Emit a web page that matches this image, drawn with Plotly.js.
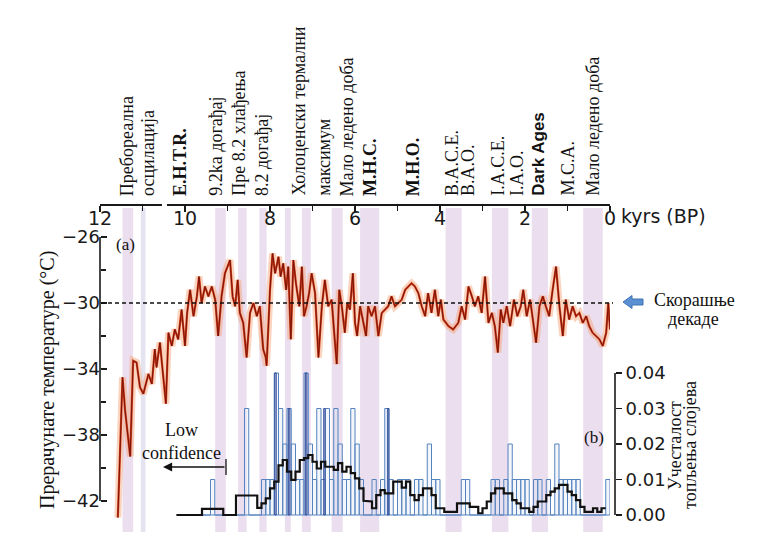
<!DOCTYPE html>
<html><head><meta charset="utf-8">
<script src="https://cdn.plot.ly/plotly-3.0.1.min.js"></script>
<style>html,body{margin:0;padding:0;background:#fff}#chart{width:768px;height:551px}</style>
</head><body><div id="chart"></div>
<script>
// ---- data ----
const tempAge = [11.58,11.47,11.41,11.29,11.22,11.14,11.06,10.98,10.86,10.78,10.71,10.67,10.59,10.51,10.45,10.39,10.31,10.24,10.16,10.08,10.00,9.95,9.88,9.80,9.72,9.67,9.61,9.53,9.45,9.37,9.29,9.22,9.14,9.06,8.98,8.94,8.88,8.82,8.76,8.71,8.63,8.55,8.47,8.39,8.31,8.24,8.16,8.10,8.08,8.00,7.94,7.88,7.80,7.75,7.69,7.62,7.57,7.51,7.45,7.39,7.31,7.25,7.20,7.14,7.08,7.02,6.94,6.86,6.78,6.71,6.63,6.55,6.49,6.43,6.37,6.31,6.24,6.18,6.12,6.05,6.00,5.95,5.88,5.80,5.74,5.69,5.61,5.53,5.45,5.37,5.29,5.22,5.14,5.06,4.98,4.90,4.82,4.75,4.67,4.59,4.51,4.43,4.35,4.28,4.20,4.12,4.04,3.98,3.92,3.80,3.69,3.57,3.49,3.41,3.33,3.25,3.18,3.10,3.02,2.94,2.86,2.78,2.71,2.64,2.57,2.51,2.43,2.35,2.26,2.18,2.10,2.04,1.96,1.88,1.80,1.74,1.66,1.58,1.51,1.43,1.35,1.27,1.19,1.11,1.04,0.96,0.88,0.80,0.72,0.64,0.56,0.49,0.41,0.33,0.25,0.17,0.09,0.04,0.00];
const tempVal = [-43.0,-34.5,-36.5,-39.3,-33.5,-33.6,-35.1,-35.5,-34.3,-34.9,-32.8,-33.9,-32.4,-34.3,-36.1,-31.8,-32.6,-31.6,-32.2,-30.4,-32.6,-30.6,-29.2,-30.8,-29.6,-28.4,-30.0,-29.0,-29.6,-29.0,-29.8,-32.0,-29.6,-28.2,-27.6,-27.4,-29.6,-30.2,-28.6,-30.6,-31.2,-33.3,-30.6,-30.0,-30.8,-30.2,-32.8,-33.3,-33.8,-29.2,-27.0,-28.2,-27.2,-28.4,-27.6,-29.2,-27.8,-32.2,-27.4,-28.8,-30.2,-27.8,-30.8,-30.2,-29.4,-28.2,-29.4,-33.3,-30.2,-28.6,-30.2,-29.8,-31.8,-33.7,-29.2,-30.2,-31.8,-30.0,-30.4,-28.2,-31.2,-32.0,-30.2,-31.2,-32.0,-30.2,-30.8,-30.2,-32.0,-30.6,-30.4,-30.2,-29.6,-30.2,-30.0,-29.8,-29.2,-29.0,-28.8,-29.0,-29.4,-30.2,-30.8,-29.4,-30.6,-29.2,-30.8,-29.8,-31.0,-31.4,-31.6,-31.2,-30.2,-31.0,-29.0,-29.6,-30.2,-29.6,-30.6,-28.4,-31.2,-30.6,-31.4,-33.0,-30.4,-31.2,-30.2,-31.4,-29.8,-30.8,-30.2,-29.2,-30.8,-29.8,-31.2,-32.4,-30.2,-29.6,-30.2,-30.8,-29.2,-27.8,-30.2,-32.0,-29.8,-31.0,-30.2,-30.8,-30.6,-31.2,-30.8,-31.4,-31.8,-32.0,-32.2,-32.6,-31.8,-30.0,-31.6];

const recentDecades = -30;

const meltAge = [10.15,10.05,9.95,9.85,9.75,9.65,9.55,9.45,9.35,9.25,9.15,9.05,8.95,8.85,8.75,8.65,8.55,8.45,8.35,8.25,8.15,8.05,7.95,7.85,7.75,7.65,7.55,7.45,7.35,7.25,7.15,7.05,6.95,6.85,6.75,6.65,6.55,6.45,6.35,6.25,6.15,6.05,5.95,5.85,5.75,5.65,5.55,5.45,5.35,5.25,5.15,5.05,4.95,4.85,4.75,4.65,4.55,4.45,4.35,4.25,4.15,4.05,3.95,3.85,3.75,3.65,3.55,3.45,3.35,3.25,3.15,3.05,2.95,2.85,2.75,2.65,2.55,2.45,2.35,2.25,2.15,2.05,1.95,1.85,1.75,1.65,1.55,1.45,1.35,1.25,1.15,1.05,0.95,0.85,0.75,0.65,0.55,0.45,0.35,0.25,0.15,0.05];
const meltFreq = [0,0,0,0,0,0,0,0,0.01,0,0,0,0,0,0,0,0.03,0,0,0,
  0.01,0.01,0.01,0.04,0.03,0.02,0.03,0.02,0.01,0.01,0.04,0.02,0.01,0.03,0.01,0.03,0.01,0.03,0.02,0.01,0.01,0.03,0.02,0.01,0,0,0.01,0,0.01,0.03,0.01,0,0.01,0.01,0.01,0,0.01,0.01,0,0.02,0.01,0.01,0,0,0,0,0,0.01,0.01,0,0,0,0,0,0.01,0.01,0,0.01,0.02,0.01,0.01,0.01,0.01,0,0.01,0.01,0,0.01,0,0.02,0.01,0.01,0.01,0.01,0.01,0,0,0,0,0,0,0.01];
const meltMean = [0,0,0,0,0,0,0.0017,0.0017,0.0017,0.0017,0.0017,0,0,0,0.0055,0.0055,0.0055,0.0055,0.0055,0.002,
  0.0033,0.0047,0.0075,0.0094,0.014,0.0155,0.0122,0.0099,0.0122,0.0155,0.016,0.0169,0.015,0.0131,0.015,0.0136,0.0136,0.0127,0.0146,0.0122,0.0136,0.0118,0.0103,0.0075,0.004,0.0038,0.0019,0.0056,0.007,0.0061,0.0061,0.0094,0.0094,0.0077,0.0094,0.0056,0.0042,0.0056,0.0075,0.0075,0.0056,0.0019,0.0019,0.0009,0.0009,0.0009,0.0033,0.0033,0.0033,0.0023,0.0023,0.0005,0.0019,0.0038,0.0061,0.0075,0.0075,0.0061,0.0061,0.0042,0.0033,0.0019,0.0019,0.0009,0.0023,0.0038,0.0038,0.0056,0.0066,0.0075,0.0085,0.0085,0.0066,0.0056,0.0042,0.0023,0.0009,0.0009,0.0019,0.0009,0.0019,null];

const meltDarkAge = [7.87,7.55,7.15,6.72,5.22];
const meltDark    = [0.04,0.03,0.04,0.03,0.03];

const bandStart = [11.47,11.04,9.29,8.75,8.25,7.65,7.25,6.55,5.88,3.87,2.78,1.84,0.63];
const bandEnd   = [11.22,10.93,9.04,8.55,8.08,7.51,7.04,6.29,5.43,3.49,2.39,1.46,0.17];

const xTicks = [12,10,8,6,4,2,0];
const tempTicks = [-26,-30,-34,-38,-42];
const tempTickText = ['\u221226','\u221230','\u221234','\u221238','\u221242'];
const meltTicks = [0,0.01,0.02,0.03,0.04];
const meltTickText = ['0.00','0.01','0.02','0.03','0.04'];

const eventLabels = ['Пребореална','осцилација','<b>E.H.T.R.</b>','9.2ka догађај','Пре 8.2 хлађења','8.2 догађај','Холоценски термални','максимум','Мало ледено доба','<b>M.H.C.</b>','<b>M.H.O.</b>','B.A.C.E.','B.A.O.','I.A.C.E.','I.A.O.','<b>Dark Ages</b>','M.C.A.','Мало ледено доба'];
const eventAge = [11.36,10.87,10.12,9.29,8.75,8.19,7.34,6.75,6.19,5.65,4.64,3.72,3.34,2.64,2.19,1.69,1.01,0.42];

// ---- helpers ----
const W = 768, H = 551;
const px = v => v / W;
const py = v => 1 - v / H;
const SERIF = 'Liberation Serif, Times New Roman, serif';
const SANS = 'DejaVu Sans, sans-serif';

// step outline for the running mean
const stepX = [], stepY = [];
meltAge.forEach((a, i) => {
  if (meltMean[i] === null) return;
  stepX.push(a + 0.05, a - 0.05);
  stepY.push(meltMean[i], meltMean[i]);
});

const traces = [
  {type:'bar', x: meltAge, y: meltFreq, width: 0.1, xaxis:'x', yaxis:'y2',
   marker:{color:'rgba(215,230,246,0.3)', line:{color:'#5583bf', width:1.0}}, hoverinfo:'skip'},
  {type:'bar', x: meltDarkAge, y: meltDark, width: 0.035, xaxis:'x', yaxis:'y2',
   marker:{color:'rgba(60,95,175,0.35)', line:{color:'#2f4a98', width:0.9}}, hoverinfo:'skip'},
  {type:'scatter', mode:'lines', x: stepX, y: stepY, xaxis:'x', yaxis:'y2',
   line:{color:'#111', width:2.2}, hoverinfo:'skip'},
  {type:'scatter', mode:'lines', x: tempAge, y: tempVal, xaxis:'x', yaxis:'y',
   line:{color:'rgba(244,160,110,0.45)', width:7}, hoverinfo:'skip'},
  {type:'scatter', mode:'lines', x: tempAge, y: tempVal, xaxis:'x', yaxis:'y',
   line:{color:'#d0401d', width:2.2}, hoverinfo:'skip'},
  {type:'scatter', mode:'lines', x: tempAge, y: tempVal, xaxis:'x', yaxis:'y',
   line:{color:'#7a1206', width:1.0}, hoverinfo:'skip'}
];

const shapes = [];
bandStart.forEach((s, i) => {
  shapes.push({type:'rect', xref:'x', yref:'paper', x0:s, x1:bandEnd[i], y0:py(532), y1:py(208),
    fillcolor: i === 1 ? 'rgba(205,205,228,0.55)' : 'rgba(222,200,226,0.6)', line:{width:0}, layer:'below'});
});
shapes.push({type:'line', xref:'paper', yref:'y', x0:px(101), x1:px(613), y0:recentDecades, y1:recentDecades,
  line:{color:'#111', width:1.5, dash:'4px,3px'}});
shapes.push({type:'line', xref:'paper', yref:'y', x0:px(100), x1:px(100), y0:-26, y1:-42, line:{color:'#1a1a1a', width:1.6}});
shapes.push({type:'line', xref:'paper', yref:'y2', x0:px(615), x1:px(615), y0:0, y1:0.04, line:{color:'#1a1a1a', width:1.6}});
shapes.push({type:'rect', xref:'paper', yref:'paper', x0:px(162), x1:px(167), y0:py(208), y1:py(200), fillcolor:'#fff', line:{width:0}});
shapes.push({type:'line', xref:'paper', yref:'paper', x0:px(226), x1:px(226), y0:py(459), y1:py(475), line:{color:'#111', width:1.3}});
shapes.push({type:'path', xref:'paper', yref:'paper',
  path:`M ${px(623)} ${py(302)} L ${px(632)} ${py(295.5)} L ${px(632)} ${py(299)} L ${px(643)} ${py(299)} L ${px(643)} ${py(305)} L ${px(632)} ${py(305)} L ${px(632)} ${py(308.5)} Z`,
  fillcolor:'#5a8fd2', line:{color:'#3f72b5', width:1}});

const annotations = [];
eventLabels.forEach((t, i) => {
  annotations.push({xref:'x', yref:'paper', x: eventAge[i], y: py(198), text: t, textangle:-90,
    xanchor:'center', yanchor:'bottom', showarrow:false,
    font: t.indexOf('Dark') >= 0 ? {family:'Liberation Sans, Arial, sans-serif', size:17, color:'#111'} : {family:SERIF, size:18, color:'#111'}});
});
const ann = (x, y, text, opts) => annotations.push(Object.assign({xref:'paper', yref:'paper', x:px(x), y:py(y), text, showarrow:false,
  xanchor:'center', yanchor:'middle', font:{family:SERIF, size:18, color:'#111'}}, opts || {}));
ann(619, 216, 'kyrs (BP)', {xanchor:'left', font:{family:SANS, size:19, color:'#1a1a1a'}});
ann(125, 244, '(a)', {font:{family:SERIF, size:17, color:'#111'}});
ann(594, 437, '(b)', {font:{family:SERIF, size:17, color:'#111'}});
ann(181, 441, 'Low<br>confidence');
ann(694, 300, 'Скорашње');
ann(693, 319, 'декаде');
ann(47, 380, 'Прерачунате температуре (°C)', {textangle:-90, font:{family:SERIF, size:20, color:'#111'}});
ann(675, 446, 'Учесталост', {textangle:-90});
ann(690, 445, 'топљења слојева', {textangle:-90});
annotations.push({xref:'paper', yref:'paper', x:px(163), y:py(467), ax:63, ay:0, text:'', showarrow:true,
  arrowhead:2, arrowsize:1.3, arrowwidth:1.4, arrowcolor:'#111'});

const layout = {
  width: W, height: H, margin:{l:0, r:0, t:0, b:0},
  paper_bgcolor:'#fff', plot_bgcolor:'rgba(0,0,0,0)', showlegend:false, barmode:'overlay', bargap:0,
  xaxis:{domain:[px(100), px(610)], range:[12, 0], anchor:'free', position:py(204), side:'bottom',
    showline:true, linecolor:'#1a1a1a', linewidth:1.6, ticks:'outside', ticklen:6, tickwidth:1.5, tickcolor:'#1a1a1a',
    ticklabelstandoff:-9,
    tickvals:xTicks, ticktext:xTicks.map(String), tickfont:{family:SANS, size:19, color:'#1a1a1a'},
    minor:{tickvals:[11,9,7,5,3,1], ticks:'outside', ticklen:5, tickwidth:1.3, tickcolor:'#1a1a1a'},
    showgrid:false, zeroline:false, fixedrange:true},
  yaxis:{domain:[py(534), py(220.5)], range:[-44, -25], anchor:'free', position:px(100),
    showline:false, ticks:'inside', ticklen:6, tickwidth:1.5, tickcolor:'#1a1a1a',
    tickvals:tempTicks, ticktext:tempTickText, tickfont:{family:SANS, size:18, color:'#1a1a1a'},
    minor:{tickvals:[-28,-32,-36,-40], ticks:'inside', ticklen:5, tickwidth:1.3, tickcolor:'#1a1a1a'},
    showgrid:false, zeroline:false, fixedrange:true},
  yaxis2:{overlaying:'y', side:'right', anchor:'free', position:px(615), range:[-0.00535, 0.08296],
    showline:false, ticks:'outside', ticklen:6, tickwidth:1.5, tickcolor:'#1a1a1a',
    tickvals:meltTicks, ticktext:meltTickText, tickfont:{family:SANS, size:18, color:'#1a1a1a'},
    showgrid:false, zeroline:false, fixedrange:true},
  shapes, annotations
};
Plotly.newPlot('chart', traces, layout, {staticPlot:true, displayModeBar:false});
</script></body></html>
